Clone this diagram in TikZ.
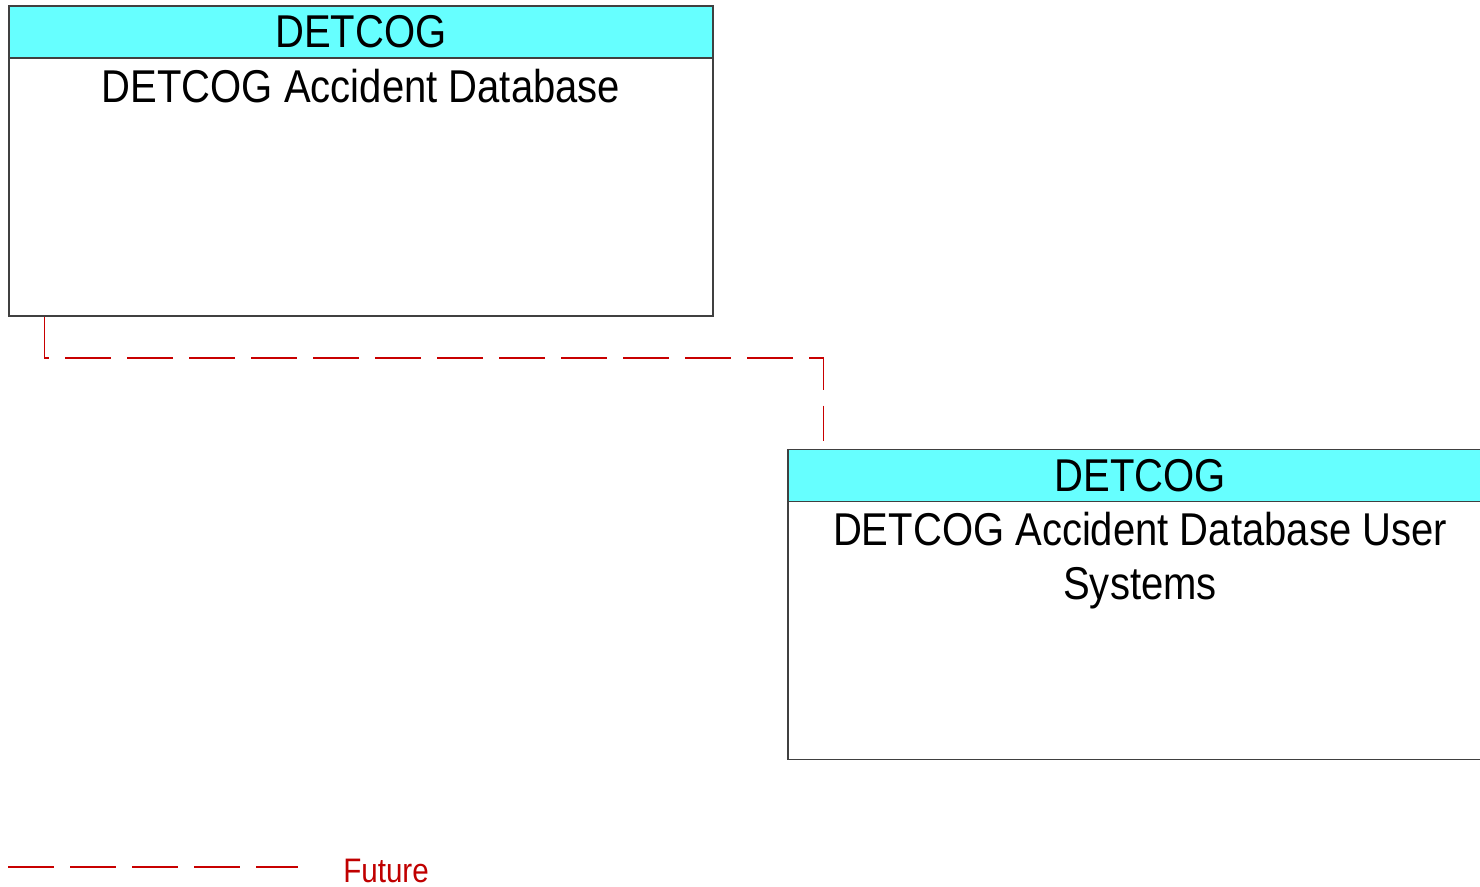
\documentclass[tikz,border=0pt]{standalone}
\usepackage{fontspec}
\usepackage{xcolor}
\usepackage{tikz}
\usetikzlibrary{calc,positioning}

\newfontfamily\elemfont[FakeStretch=0.87]{Liberation Sans}
\newcommand{\elemtext}{\elemfont\fontsize{34.5pt}{40.5pt}\selectfont}
\newcommand{\legtext}{\elemfont\fontsize{25.5pt}{30pt}\selectfont}

\definecolor{headcyan}{RGB}{102,255,255}
\definecolor{futurered}{RGB}{200,0,0}
\definecolor{futuretext}{RGB}{192,0,0}

\tikzset{
  elembox/.style={draw=black!75, line width=1pt, minimum width=528pt, minimum height=232.5pt, inner sep=0pt},
  elemhead/.style={draw=black!75, fill=headcyan, line width=1pt, minimum width=528pt, minimum height=39pt, inner sep=0pt, anchor=north, font=\elemtext},
  elemname/.style={anchor=north, align=center, inner sep=0pt, font=\elemtext},
  futureflow/.style={color=futurered, line width=1pt, dash pattern=on 34.5pt off 12pt},
}

\begin{document}
\begin{tikzpicture}[x=0.75pt, y=-0.75pt]
      % 1 unit = 1 px of the 1480 x 887 sheet
      \useasboundingbox (0,0) rectangle (1480,887);
      \node[elembox] (db) at (361,161) {};
      \node[elemhead] (dbhead) at (db.north) {DETCOG};
      \node[elemname] (dbname) at ($(dbhead.south)+(0,10)$) {DETCOG Accident Database};

      \node[elembox] (users) at (1140,604.5) {};
      \node[elemhead] (usershead) at (users.north) {DETCOG};
      \node[elemname] (usersname) at ($(usershead.south)+(0,10)$) {DETCOG Accident Database User\\Systems};

      \coordinate (flowstart) at ($(db.south west)+(36,0)$);
      \coordinate (flowend) at ($(users.north west)+(36,-8)$);
      \coordinate (flowlevel) at (0,358);
      \draw[futureflow] (flowstart) |- (flowend |- flowlevel) -- (flowend);

      % legend
      \coordinate (legstart) at (8,867);
      \coordinate (legstop) at (298,867);
      \draw[futureflow] (legstart) -- (legstop);
      \node[anchor=west, inner sep=0pt, text=futuretext, font=\legtext] (legfuture) at (343,871) {Future};
    \end{tikzpicture}
\end{document}
